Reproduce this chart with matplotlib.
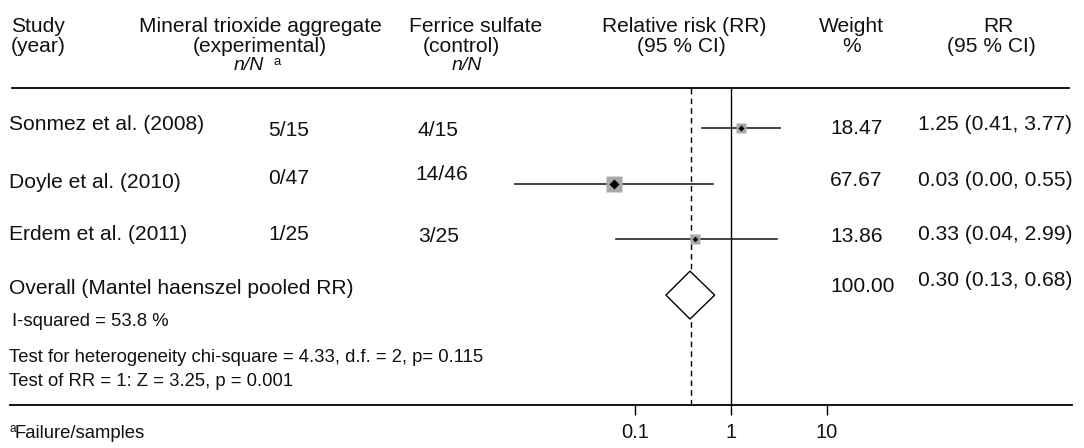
import matplotlib
matplotlib.use("Agg")
import matplotlib.pyplot as plt
import numpy as np
from matplotlib.patches import Polygon

plt.rcParams['font.family'] = ['Liberation Sans', 'DejaVu Sans']

# data
studies = ["Sonmez et al. (2008)", "Doyle et al. (2010)", "Erdem et al. (2011)"]
mta_nN = ["5/15", "0/47", "1/25"]
fs_nN = ["4/15", "14/46", "3/25"]
weights = [18.47, 67.67, 13.86]
rr_labels = ["1.25 (0.41, 3.77)", "0.03 (0.00, 0.55)", "0.33 (0.04, 2.99)"]
# positions of the marks as drawn on the log axis
rr_drawn = [1.27, 0.061, 0.42]
lo_drawn = [0.50, 0.0056, 0.063]
hi_drawn = [3.24, 0.645, 2.99]
pooled_drawn = [0.374, 0.21, 0.676]   # est, lo, hi
pooled_line = 0.38
pooled_weight = "100.00"
pooled_label = "0.30 (0.13, 0.68)"
ticks = [0.1, 1, 10]
tick_labels = ["0.1", "1", "10"]

W, H = 1084, 448
FS = 15.1      # header and rows
FS_SMALL = 13.3  # footer
fig = plt.figure(figsize=(W / 100, H / 100), dpi=100)

# forest axes: full width, from header rule down to bottom rule
x_one, per_dec = 731, 96.0
top_px, bot_px = 88, 405
ax = fig.add_axes([0, (H - bot_px) / H, 1, (bot_px - top_px) / H])
ax.set_xscale('log')
ax.set_xlim(10 ** (-x_one / per_dec), 10 ** ((W - x_one) / per_dec))
row0, row_h = 128, 55.7
ax.set_ylim((bot_px - row0) / row_h, (top_px - row0) / row_h)
for s in ax.spines.values():
    s.set_visible(False)
ax.set_yticks([])
ax.set_xticks(ticks)
ax.set_xticklabels(tick_labels, fontsize=14.5, color='#111111')
ax.minorticks_off()
ax.tick_params(axis='x', length=7.2, width=1, pad=6, direction='out')
ax.patch.set_visible(False)

ax.axvline(1, color='black', lw=1)
ax.axvline(pooled_line, color='black', lw=1, dashes=(4, 3))

for i in range(len(studies)):
    ax.plot([lo_drawn[i], hi_drawn[i]], [i, i], color='#222222', lw=1.2, zorder=3)
    ms = 3.25 * weights[i] ** 0.3
    ax.plot(rr_drawn[i], i, marker='s', ms=ms, color='#a8a8a8', mec='none', zorder=4)
    ax.plot(rr_drawn[i], i, marker='D', ms=ms * 0.4, color='black', mec='none', zorder=5)

est, lo, hi = pooled_drawn
dh = 0.43
ax.add_patch(Polygon([(lo, 3), (est, 3 - dh), (hi, 3), (est, 3 + dh)],
                     closed=True, facecolor='white', edgecolor='black', lw=1, zorder=4))

# table overlay in pixel coordinates
tab = fig.add_axes([0, 0, 1, 1])
tab.set_xlim(0, W)
tab.set_ylim(H, 0)
tab.axis('off')

tab.plot([12, 1069], [88, 88], color='black', lw=1.3)
tab.plot([10, 1072], [405, 405], color='black', lw=1.3)

def t(x, y, s, ha='left', fontsize=FS, **kw):
    tab.text(x, y, s, ha=ha, va='center', fontsize=fontsize, color='#111111', **kw)

# header
t(11, 27, "Study"); t(11, 47, "(year)")
t(260, 27, "Mineral trioxide aggregate", 'center'); t(260, 47, "(experimental)", 'center')
t(249, 66, "n/N", 'center', fontsize=14, style='italic'); t(273, 62, "a", fontsize=9.5)
t(476, 27, "Ferrice sulfate", 'center'); t(461, 47, "(control)", 'center')
t(467, 66, "n/N", 'center', fontsize=14, style='italic')
t(684, 27, "Relative risk (RR)", 'center'); t(681, 47, "(95 % CI)", 'center')
t(851, 27, "Weight", 'center'); t(852, 47, "%", 'center')
t(998, 27, "RR", 'center'); t(991, 47, "(95 % CI)", 'center')

# rows
name_y = [125, 182, 235]
mta_y = [130, 179, 235]
fs_y = [131, 175, 237]
w_y = [129, 181, 236]
rr_y = [125, 180, 235]
for i in range(len(studies)):
    t(9, name_y[i], studies[i])
    t(268, mta_y[i], mta_nN[i])
    t(418 if i != 1 else 415, fs_y[i], fs_nN[i])
    t(830, w_y[i], f"{weights[i]:.2f}")
    t(918, rr_y[i], rr_labels[i])

t(9, 289, "Overall (Mantel haenszel pooled RR)")
t(830, 287, pooled_weight)
t(918, 280, pooled_label)

# footer
t(12, 322, "I-squared = 53.8 %", fontsize=FS_SMALL)
t(9, 357, "Test for heterogeneity chi-square = 4.33, d.f. = 2, p= 0.115", fontsize=FS_SMALL)
t(9, 382, "Test of RR = 1: Z = 3.25, p = 0.001", fontsize=FS_SMALL)
t(9, 429, "a", fontsize=8.5)
t(15, 434, "Failure/samples", fontsize=FS_SMALL)

fig.savefig("out.png", dpi=100)
